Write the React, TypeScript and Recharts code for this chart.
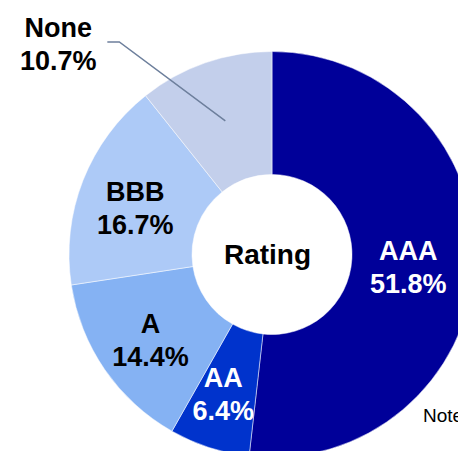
import { PieChart, Pie, Cell } from 'recharts';

const ratings = ['AAA', 'AA', 'A', 'BBB', 'None'];
const shares = [51.8, 6.4, 14.4, 16.7, 10.7];
const sliceColors = ['#000099', '#0033cc', '#85b2f3', '#adcaf7', '#c3cfeb'];
const labelColors = ['#ffffff', '#ffffff', '#000000', '#000000', '#000000'];
const centerTitle = 'Rating';

const data = ratings.map((name, i) => ({ name, value: shares[i] }));

const RADIAN = Math.PI / 180;
const FONT = '"Liberation Sans", Arial, sans-serif';

const renderLabel = (props: any) => {
  const { cx, cy, midAngle, innerRadius, outerRadius, index, name, value } = props;
  const r = (innerRadius + outerRadius) / 2;
  const x = cx + r * Math.cos(-midAngle * RADIAN) - 5;
  const y = cy + r * Math.sin(-midAngle * RADIAN) + 2;
  const text = `${value.toFixed(1)}%`;

  // title in the donut hole, drawn once with the first slice
  const title =
    index === 0 ? (
      <text
        x={cx - 4.5}
        y={cy + 9}
        textAnchor="middle"
        fontFamily={FONT}
        fontWeight="bold"
        fontSize={28}
        fill="#000"
      >
        {centerTitle}
      </text>
    ) : null;

  if (name === 'None') {
    // outside label with a bent leader line
    const lx = x + 5;
    const ly = y - 2;
    const ex = lx - 106;
    const ey = ly - 79;
    return (
      <g>
        <polyline
          points={`${lx},${ly} ${ex},${ey} ${ex - 12},${ey}`}
          fill="none"
          stroke="#6d7f9c"
          strokeWidth={1.5}
        />
        <text
          x={ex - 61}
          textAnchor="middle"
          fontFamily={FONT}
          fontWeight="bold"
          fontSize={27}
          fill="#000"
        >
          <tspan x={ex - 61} y={ey - 5}>{name}</tspan>
          <tspan x={ex - 61} y={ey + 28}>{text}</tspan>
        </text>
      </g>
    );
  }

  return (
    <g>
      {title}
      <text
        x={x}
        textAnchor="middle"
        fontFamily={FONT}
        fontWeight="bold"
        fontSize={27}
        fill={labelColors[index]}
      >
        <tspan x={x} y={y - 4}>{name}</tspan>
        <tspan x={x} y={y + 29}>{text}</tspan>
      </text>
    </g>
  );
};

export default function App() {
  return (
    <div style={{ position: 'absolute', left: 0, top: 0, width: 458, height: 451, overflow: 'hidden' }}>
      <PieChart width={458} height={451} margin={{ top: 0, right: 0, bottom: 0, left: 0 }}>
        <Pie
          data={data}
          dataKey="value"
          nameKey="name"
          cx={272}
          cy={254.5}
          innerRadius={80}
          outerRadius={203}
          startAngle={90}
          endAngle={-270}
          stroke="#ffffff"
          strokeWidth={0.5}
          label={renderLabel}
          labelLine={false}
          isAnimationActive={false}
        >
          {data.map((d, i) => (
            <Cell key={d.name} fill={sliceColors[i]} />
          ))}
        </Pie>
      </PieChart>
      <div
        style={{
          position: 'absolute',
          left: 423,
          top: 405,
          fontFamily: FONT,
          fontSize: 19,
          color: '#000',
          whiteSpace: 'nowrap',
        }}
      >
        Note
      </div>
    </div>
  );
}
